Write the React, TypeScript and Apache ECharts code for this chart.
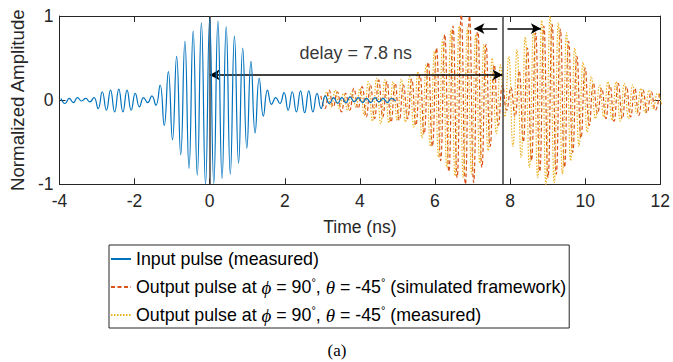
import React, { useEffect, useRef } from "react";
import * as echarts from "echarts";

// ---- axis settings ----
const xMin = -4;
const xMax = 12;
const xInterval = 2;
const yMin = -1;
const yMax = 1;
const yInterval = 1;

// ---- series names ----
const nameInput = "Input pulse (measured)";
const nameSim = "Output pulse at ϕ = 90°, θ = -45° (simulated framework)";
const nameMeas = "Output pulse at ϕ = 90°, θ = -45° (measured)";

// ---- input pulse: successive peaks / troughs ----
const blueStart = -3.96;
const blueStep = 0.11;
const blueValues = [
  0.02, -0.04, 0.02, -0.03, 0.03, -0.01, 0.02, -0.02, 0.03, -0.1,
  0.1, -0.12, 0.12, -0.14, 0.13, -0.14, 0.12, -0.12, 0.08, -0.08,
  0.03, -0.03, 0.05, -0.06, 0.18, -0.3, 0.34, -0.47, 0.52, -0.65,
  0.7, -0.81, 0.82, -0.89, 0.92, -1.0, 0.97, -0.99, 0.94, -0.93,
  0.87, -0.88, 0.76, -0.75, 0.62, -0.57, 0.46, -0.39, 0.26, -0.19,
  0.12, -0.05, 0.03, -0.04, 0.09, -0.12, 0.1, -0.14, 0.11, -0.15,
  0.11, -0.14, 0.08, -0.1, 0.05, -0.04, 0.03, -0.04, 0.03, -0.03,
  0.04, -0.02, 0.03, -0.03, 0.02, -0.03, 0.03, -0.02, 0.02, -0.03,
  0.02, -0.01,
];

// ---- simulated output pulse ----
const simStart = 2.96;
const simStep = 0.11;
const simValues = [
  0.05, -0.1, 0.12, -0.08, 0.1, -0.14, 0.08, -0.12, 0.14, -0.1,
  0.16, -0.2, 0.18, -0.22, 0.24, -0.2, 0.22, -0.26, 0.2, -0.24,
  0.18, -0.22, 0.25, -0.3, 0.3, -0.4, 0.45, -0.55, 0.62, -0.72,
  0.78, -0.85, 0.88, -0.92, 1.02, -1.0, 1.0, -0.98, 0.85, -0.8,
  0.66, -0.55, 0.42, -0.3, 0.18, -0.12, 0.15, -0.2, 0.35, -0.5,
  0.62, -0.72, 0.8, -0.85, 0.88, -0.92, 0.9, -0.88, 0.84, -0.8,
  0.7, -0.62, 0.52, -0.45, 0.38, -0.3, 0.2, -0.16, 0.14, -0.22,
  0.18, -0.25, 0.2, -0.22, 0.16, -0.2, 0.14, -0.18, 0.12, -0.15,
  0.1, -0.12, 0.08,
];

// ---- measured output pulse ----
const measStart = 3.015;
const measStep = 0.11;
const measValues = [
  -0.06, 0.1, -0.08, 0.12, -0.1, 0.08, -0.12, 0.1, -0.08, 0.14,
  -0.18, 0.22, -0.25, 0.26, -0.28, 0.24, -0.27, 0.22, -0.24, 0.25,
  -0.26, 0.28, -0.32, 0.34, -0.45, 0.42, -0.55, 0.58, -0.68, 0.72,
  -0.8, 0.84, -0.9, 0.88, -0.92, 0.86, -0.88, 0.78, -0.75, 0.66,
  -0.6, 0.5, -0.4, 0.42, -0.2, 0.52, -0.55, 0.6, -0.68, 0.75,
  -0.8, 0.85, -0.92, 0.95, -1.0, 1.0, -0.98, 0.92, -0.88, 0.8,
  -0.72, 0.62, -0.55, 0.45, -0.38, 0.28, -0.22, 0.18, -0.2, 0.22,
  -0.24, 0.22, -0.25, 0.2, -0.22, 0.18, -0.16, 0.14, -0.15, 0.12,
  -0.1, 0.08, -0.05,
];

// ---- annotations (data coordinates) ----
const markerTimes = [0, 7.8];
const delayArrowY = 0.3;
const delayText = "delay = 7.8 ns";
const delayTextPos = [3.89, 0.56];
const splitArrowY = 0.85;
const splitLeft = [7.66, 7.05];
const splitRight = [7.93, 8.82];

const toPairs = (start: number, step: number, vals: number[]) =>
  vals.map((v, i) => [+(start + i * step).toFixed(4), v]);

const FONT = "Arial, 'Liberation Sans', Helvetica, sans-serif";
const SERIF = "'Times New Roman', 'Liberation Serif', serif";
const AXIS_COLOR = "#262626";

const richFmt = (name: string) =>
  name
    .replace(/ϕ/g, "{g|ϕ}")
    .replace(/θ/g, "{g|θ}")
    .replace(/°/g, "{s|°}")
    .split(/(\{[gs]\|[^}]*\})/)
    .map((p) => (p.startsWith("{") ? p : p ? `{t|${p}}` : ""))
    .join("");

export default function App() {
  const ref = useRef<HTMLDivElement>(null);
  useEffect(() => {
    document.body.style.margin = "0";
    if (!ref.current) return;
    const chart = echarts.init(ref.current, undefined, { renderer: "svg" });
    const axisCommon = {
      type: "value" as const,
      splitLine: { show: false },
      axisLine: { show: true, onZero: false, lineStyle: { color: AXIS_COLOR, width: 1 } },
      axisTick: { show: true, inside: true, length: 6, lineStyle: { color: AXIS_COLOR } },
    };
    const LEG = 17.8;
    chart.setOption({
      animation: false,
      backgroundColor: "#ffffff",
      grid: { left: 51.7, right: 11.3, top: 16, bottom: 177.7, containLabel: false },
      xAxis: [
        {
          ...axisCommon,
          position: "bottom",
          min: xMin,
          max: xMax,
          interval: xInterval,
          name: "Time (ns)",
          nameLocation: "middle",
          nameGap: 34,
          nameTextStyle: { fontFamily: FONT, fontSize: 17.5, color: AXIS_COLOR },
          axisLabel: { fontFamily: FONT, fontSize: 17.5, color: AXIS_COLOR, margin: 8 },
        },
        {
          ...axisCommon,
          position: "top",
          min: xMin,
          max: xMax,
          interval: xInterval,
          axisLabel: { show: false },
        },
      ],
      yAxis: [
        {
          ...axisCommon,
          position: "left",
          min: yMin,
          max: yMax,
          interval: yInterval,
          name: "Normalized Amplitude",
          nameLocation: "middle",
          nameGap: 29,
          nameTextStyle: { fontFamily: FONT, fontSize: 18.7, color: AXIS_COLOR },
          axisLabel: { fontFamily: FONT, fontSize: 17.5, color: AXIS_COLOR, margin: 6 },
        },
        {
          ...axisCommon,
          position: "right",
          min: yMin,
          max: yMax,
          interval: yInterval,
          axisLabel: { show: false },
        },
      ],
      legend: {
        data: [nameInput, nameSim, nameMeas],
        orient: "vertical",
        left: 109,
        top: 245,
        padding: [3, 3, 2, 1],
        itemGap: 6,
        itemWidth: 20,
        itemHeight: 12,
        borderColor: AXIS_COLOR,
        borderWidth: 1,
        backgroundColor: "#ffffff",
        borderRadius: 0,
        itemStyle: { opacity: 0, color: "rgba(0,0,0,0)", borderWidth: 0 },
        formatter: (name: string) => richFmt(name),
        textStyle: {
          fontFamily: FONT,
          fontSize: LEG,
          color: "#000",
          lineHeight: 22,
          rich: {
            t: { fontFamily: FONT, fontSize: LEG, color: "#000", lineHeight: 22 },
            g: {
              fontFamily: SERIF,
              fontStyle: "italic",
              fontSize: 19,
              color: "#000",
              lineHeight: 22,
            },
            s: { fontFamily: FONT, fontSize: 11, color: "#000", lineHeight: 22, verticalAlign: "top" },
          },
        },
      },
      series: [
        {
          name: nameInput,
          type: "line",
          data: toPairs(blueStart, blueStep, blueValues),
          smooth: true,
          symbol: "none",
          z: 5,
          lineStyle: { color: "#0072BD", width: 1.2 },
          itemStyle: { color: "#0072BD" },
          markLine: {
            silent: true,
            symbol: ["arrow", "arrow"],
            symbolSize: [8, 10],
            label: { show: false },
            lineStyle: { color: "#000", width: 1.5, type: "solid" },
            data: [
              [
                { coord: [markerTimes[0], delayArrowY] },
                { coord: [markerTimes[1], delayArrowY] },
              ],
            ],
          },
        },
        {
          name: nameSim,
          type: "line",
          data: toPairs(simStart, simStep, simValues),
          smooth: true,
          symbol: "none",
          z: 3,
          lineStyle: { color: "#D95319", width: 1.2, type: [4, 2.5] },
          itemStyle: { color: "#D95319" },
          markLine: {
            silent: true,
            symbolSize: [8, 10],
            label: { show: false },
            lineStyle: { color: "#000", width: 1.5, type: "solid" },
            data: [
              [
                { coord: [splitLeft[0], splitArrowY], symbol: "none" },
                { coord: [splitLeft[1], splitArrowY], symbol: "arrow" },
              ],
              [
                { coord: [splitRight[0], splitArrowY], symbol: "none" },
                { coord: [splitRight[1], splitArrowY], symbol: "arrow" },
              ],
            ],
          },
        },
        {
          name: nameMeas,
          type: "line",
          data: toPairs(measStart, measStep, measValues),
          smooth: true,
          symbol: "none",
          z: 4,
          lineStyle: { color: "#EDB120", width: 1.2, type: [1.5, 1.5] },
          itemStyle: { color: "#EDB120" },
          markLine: {
            silent: true,
            symbol: ["none", "none"],
            label: { show: false },
            lineStyle: { color: "#404040", width: 1.5, type: "solid" },
            data: markerTimes.map((t) => ({ xAxis: t })),
          },
        },
        {
          name: "delayLabel",
          type: "scatter",
          data: [delayTextPos],
          symbolSize: 0,
          silent: true,
          z: 10,
          label: {
            show: true,
            position: "inside",
            formatter: delayText,
            fontFamily: FONT,
            fontSize: 18,
            color: "#000",
          },
        },
      ],
      graphic: [
        {
          type: "text",
          x: 337,
          y: 350,
          style: {
            text: "(a)",
            fontFamily: SERIF,
            fontSize: 17,
            fill: "#000",
            align: "center",
            verticalAlign: "middle",
          },
        },
      ],
    });
    return () => chart.dispose();
  }, []);
  return (
    <div
      ref={ref}
      style={{ position: "absolute", left: 0, top: 0, width: 673, height: 362 }}
    />
  );
}
